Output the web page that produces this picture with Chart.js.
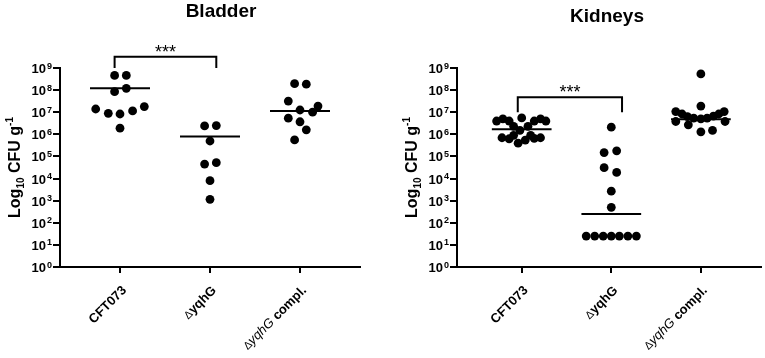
<!DOCTYPE html>
<html>
<head>
<meta charset="utf-8">
<script src="https://cdn.jsdelivr.net/npm/chart.js@4.4.0/dist/chart.umd.min.js"></script>
<style>
  body { margin: 0; background: #fff; }
  canvas { position: absolute; top: 0; }
</style>
</head>
<body>
<canvas id="bladderChart" width="380" height="358" style="left:0px"></canvas>
<canvas id="kidneysChart" width="385" height="358" style="left:380px"></canvas>
<script>
// categories + y axis ticks
const groups = ['CFT073', 'ΔyqhG', 'ΔyqhG compl.'];
const yTicks = [1, 1e1, 1e2, 1e3, 1e4, 1e5, 1e6, 1e7, 1e8, 1e9];
const yTickExponents = ['0', '1', '2', '3', '4', '5', '6', '7', '8', '9'];

// Bladder (CFU/g), jitter is horizontal offset in category units
const bladderCFT = [4.6e8, 4.6e8, 8.5e7, 1.2e8, 1.4e7, 8.9e6, 8.3e6, 1.15e7, 1.8e7, 1.9e6];
const bladderCFTJitter = [-0.06, 0.07, -0.06, 0.07, -0.27, -0.13, 0, 0.14, 0.27, 0];
const bladderMut = [2.4e6, 2.5e6, 5.0e5, 4.5e4, 5.2e4, 8.0e3, 1.15e3];
const bladderMutJitter = [-0.06, 0.07, 0, -0.06, 0.07, 0, 0];
const bladderCompl = [1.95e8, 1.85e8, 3.2e7, 1.9e7, 1.26e7, 1.0e7, 5.4e6, 3.7e6, 1.6e6, 5.6e5];
const bladderComplJitter = [-0.06, 0.07, -0.13, 0.2, 0, 0.14, -0.13, 0, 0.07, -0.06];
const bladderMedians = [1.2e8, 8.0e5, 1.15e7];
const bladderSig = { from: 0.94, to: 2.07, top: 3.2e9, bottom: 1.0e9, text: '***' };

// Kidneys (CFU/g)
const kidneysCFT = [4.0e6, 5.0e6, 4.0e6, 5.5e6, 4.0e6, 5.0e6, 4.0e6,
                    2.3e6, 2.3e6, 1.5e6,
                    7.0e5, 6.3e5, 4.0e5, 5.5e5, 6.5e5, 7.0e5, 9.0e5, 9.0e5];
const kidneysCFTJitter = [-0.28, -0.21, -0.14, 0, 0.14, 0.21, 0.27,
                          -0.09, 0.07, -0.02,
                          -0.22, -0.14, -0.04, 0.04, 0.14, 0.21, -0.09, 0.1];
const kidneysMut = [2.1e6, 1.5e5, 1.8e5, 3.1e4, 1.9e4, 2.7e3, 5.0e2, 25, 25, 25, 25, 25, 25, 25];
const kidneysMutJitter = [0, -0.08, 0.06, -0.08, 0.06, 0, 0, -0.28, -0.185, -0.09, 0, 0.09, 0.185, 0.28];
const kidneysCompl = [5.4e8, 1.9e7, 1.07e7, 8.3e6, 6.3e6, 5.4e6, 5.0e6, 5.4e6, 6.6e6, 8.3e6, 1.07e7,
                      3.8e6, 2.7e6, 3.8e6, 1.3e6, 1.5e6];
const kidneysComplJitter = [0, 0, -0.28, -0.21, -0.15, -0.08, 0, 0.07, 0.14, 0.2, 0.26,
                            -0.28, -0.14, 0.27, 0, 0.13];
const kidneysMedians = [1.7e6, 2.5e2, 4.8e6];
const kidneysSig = { from: 0.956, to: 2.12, top: 4.8e7, bottom: 1.0e7, text: '***' };

const FONT = '"Liberation Sans", Arial, sans-serif';

function groupDatasets(values, jitters, medians) {
  const sets = [];
  values.forEach((vals, i) => {
    sets.push({
      type: 'scatter',
      data: vals.map((v, j) => ({ x: i + 1 + jitters[i][j], y: v })),
      pointRadius: 4.4,
      pointHoverRadius: 4.4,
      backgroundColor: '#000',
      borderWidth: 0
    });
    // median bar
    sets.push({
      type: 'line',
      data: [{ x: i + 1 - 1 / 3, y: medians[i] }, { x: i + 1 + 1 / 3, y: medians[i] }],
      borderColor: '#000',
      borderWidth: 2,
      pointRadius: 0,
      showLine: true
    });
  });
  return sets;
}

// split a category label into styled runs (delta sign thin, gene name italic in compl.)
function labelRuns(label) {
  const runs = [];
  let rest = label;
  if (rest.startsWith('Δ')) {
    runs.push({ t: 'Δ', f: '11px ' + FONT });
    rest = rest.slice(1);
  }
  const idx = rest.indexOf(' compl.');
  if (idx >= 0) {
    runs.push({ t: rest.slice(0, idx), f: 'italic 13px ' + FONT });
    runs.push({ t: rest.slice(idx), f: 'bold 13px ' + FONT });
  } else {
    runs.push({ t: rest, f: 'bold 13px ' + FONT });
  }
  return runs;
}

function measureRuns(ctx, runs) {
  let total = 0;
  runs.forEach(r => { ctx.font = r.f; r.w = ctx.measureText(r.t).width; total += r.w; });
  return total;
}

const decorPlugin = {
  id: 'decor',
  afterDraw(chart, args, o) {
    const ctx = chart.ctx;
    const xs = chart.scales.x, ys = chart.scales.y, area = chart.chartArea;
    ctx.save();
    ctx.fillStyle = '#000';
    ctx.strokeStyle = '#000';

    // panel title
    ctx.font = 'bold 19px ' + FONT;
    ctx.textAlign = 'center';
    ctx.textBaseline = 'alphabetic';
    ctx.fillText(o.title, o.titleX, o.titleY);

    // y tick labels 10^n
    yTicks.forEach((v, i) => {
      const py = ys.getPixelForValue(v);
      ctx.font = 'bold 9px ' + FONT;
      const ew = ctx.measureText(yTickExponents[i]).width;
      const ex = area.left - 8 - ew;
      ctx.textAlign = 'left';
      ctx.fillText(yTickExponents[i], ex, py + 0.5);
      ctx.font = 'bold 13px ' + FONT;
      ctx.textAlign = 'right';
      ctx.fillText('10', ex - 1, py + 5);
    });

    // y axis title: Log10 CFU g-1
    const titleRuns = [
      { t: 'Log', f: 'bold 16px ' + FONT, dy: 0 },
      { t: '10', f: 'bold 10px ' + FONT, dy: 4 },
      { t: ' CFU g', f: 'bold 16px ' + FONT, dy: 0 },
      { t: '-1', f: 'bold 10px ' + FONT, dy: -7 }
    ];
    const tw = measureRuns(ctx, titleRuns);
    ctx.save();
    ctx.translate(area.left - 40, (area.top + area.bottom) / 2);
    ctx.rotate(-Math.PI / 2);
    ctx.textAlign = 'left';
    let cx = -tw / 2;
    titleRuns.forEach(r => { ctx.font = r.f; ctx.fillText(r.t, cx, r.dy); cx += r.w; });
    ctx.restore();

    // rotated category labels
    groups.forEach((g, i) => {
      const runs = labelRuns(g);
      const w = measureRuns(ctx, runs);
      ctx.save();
      ctx.translate(xs.getPixelForValue(i + 1) + 7, area.bottom + 24);
      ctx.rotate(-Math.PI / 4);
      ctx.textAlign = 'left';
      let lx = -w;
      runs.forEach(r => { ctx.font = r.f; ctx.fillText(r.t, lx, 0); lx += r.w; });
      ctx.restore();
    });

    // significance bracket
    const s = o.sig;
    const x1 = xs.getPixelForValue(s.from), x2 = xs.getPixelForValue(s.to);
    const yt = ys.getPixelForValue(s.top), yb = ys.getPixelForValue(s.bottom);
    ctx.lineWidth = 2;
    ctx.beginPath();
    ctx.moveTo(x1, yb);
    ctx.lineTo(x1, yt);
    ctx.lineTo(x2, yt);
    ctx.lineTo(x2, yb);
    ctx.stroke();
    ctx.font = '18px ' + FONT;
    ctx.textAlign = 'center';
    ctx.fillText(s.text, (x1 + x2) / 2, yt + 1);

    ctx.restore();
  }
};

function makePanel(canvasId, p) {
  const ctx = document.getElementById(canvasId).getContext('2d');
  return new Chart(ctx, {
    type: 'scatter',
    data: { datasets: groupDatasets(p.values, p.jitters, p.medians) },
    plugins: [decorPlugin],
    options: {
      responsive: false,
      animation: false,
      events: [],
      clip: false,
      layout: { padding: { top: 68, right: p.padRight, left: 0, bottom: 0 } },
      plugins: {
        legend: { display: false },
        tooltip: { enabled: false },
        decor: { title: p.title, titleX: p.titleX, titleY: p.titleY, sig: p.sig }
      },
      scales: {
        x: {
          type: 'linear',
          min: p.xMin,
          max: 11 / 3,
          afterFit: (s) => { s.height = 91; },
          afterBuildTicks: (s) => { s.ticks = groups.map((g, i) => ({ value: i + 1 })); },
          ticks: { display: false },
          grid: { drawOnChartArea: false, drawTicks: true, tickLength: 6, color: '#000', lineWidth: 2 },
          border: { display: true, color: '#000', width: 2 }
        },
        y: {
          type: 'logarithmic',
          min: 1,
          max: 1e9,
          afterFit: (s) => { s.width = p.axisLeft; },
          afterBuildTicks: (s) => { s.ticks = yTicks.map(v => ({ value: v })); },
          ticks: { display: false },
          grid: { drawOnChartArea: false, drawTicks: true, tickLength: 7, color: '#000', lineWidth: 2 },
          border: { display: true, color: '#000', width: 2 }
        }
      }
    }
  });
}

makePanel('bladderChart', {
  title: 'Bladder', titleX: 221, titleY: 17,
  values: [bladderCFT, bladderMut, bladderCompl],
  jitters: [bladderCFTJitter, bladderMutJitter, bladderComplJitter],
  medians: bladderMedians,
  sig: bladderSig,
  axisLeft: 60, padRight: 20, xMin: 1 / 3
});

makePanel('kidneysChart', {
  title: 'Kidneys', titleX: 227, titleY: 22,
  values: [kidneysCFT, kidneysMut, kidneysCompl],
  jitters: [kidneysCFTJitter, kidneysMutJitter, kidneysComplJitter],
  medians: kidneysMedians,
  sig: kidneysSig,
  axisLeft: 77, padRight: 3, xMin: 1 - 65 / 90
});
</script>
</body>
</html>
